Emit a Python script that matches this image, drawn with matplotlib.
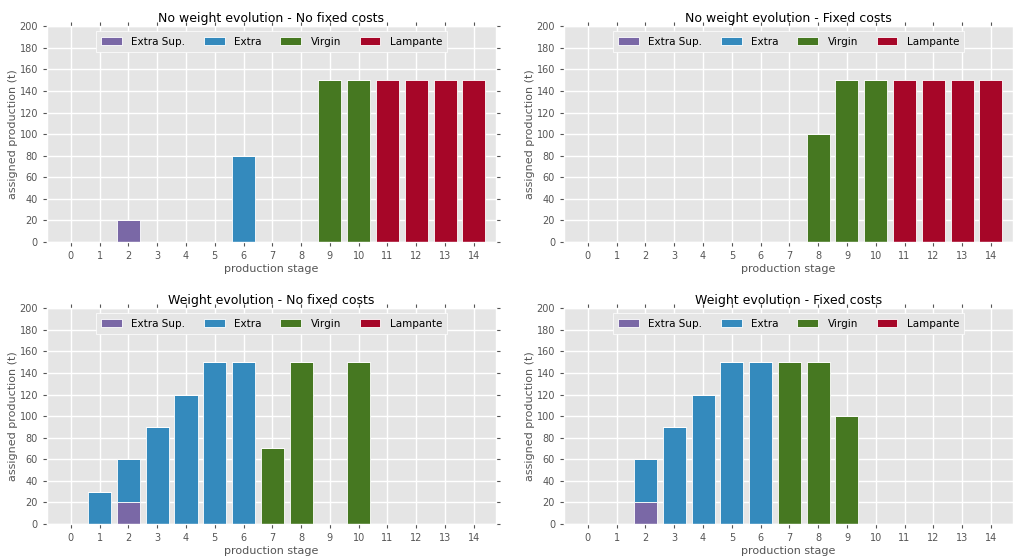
import matplotlib
matplotlib.use("Agg")
import matplotlib.pyplot as plt
import numpy as np

plt.style.use('ggplot')

# production stages 0..14
stages = np.arange(15)
labels = ['Extra Sup.', 'Extra', 'Virgin', 'Lampante']
colors = ['#7A68A6', '#348ABD', '#467821', '#A60628']

titles = ['No weight evolution - No fixed costs',
          'No weight evolution - Fixed costs',
          'Weight evolution - No fixed costs',
          'Weight evolution - Fixed costs']

# assigned production (t) per stage, one list per quality
# no weight evolution - no fixed costs
a_extra_sup = [0, 0, 20, 0, 0, 0, 0, 0, 0, 0, 0, 0, 0, 0, 0]
a_extra     = [0, 0, 0, 0, 0, 0, 80, 0, 0, 0, 0, 0, 0, 0, 0]
a_virgin    = [0, 0, 0, 0, 0, 0, 0, 0, 0, 150, 150, 0, 0, 0, 0]
a_lampante  = [0, 0, 0, 0, 0, 0, 0, 0, 0, 0, 0, 150, 150, 150, 150]

# no weight evolution - fixed costs
b_extra_sup = [0] * 15
b_extra     = [0] * 15
b_virgin    = [0, 0, 0, 0, 0, 0, 0, 0, 100, 150, 150, 0, 0, 0, 0]
b_lampante  = [0, 0, 0, 0, 0, 0, 0, 0, 0, 0, 0, 150, 150, 150, 150]

# weight evolution - no fixed costs
c_extra_sup = [0, 0, 20, 0, 0, 0, 0, 0, 0, 0, 0, 0, 0, 0, 0]
c_extra     = [0, 30, 40, 90, 120, 150, 150, 0, 0, 0, 0, 0, 0, 0, 0]
c_virgin    = [0, 0, 0, 0, 0, 0, 0, 70, 150, 0, 150, 0, 0, 0, 0]
c_lampante  = [0] * 15

# weight evolution - fixed costs
d_extra_sup = [0, 0, 20, 0, 0, 0, 0, 0, 0, 0, 0, 0, 0, 0, 0]
d_extra     = [0, 0, 40, 90, 120, 150, 150, 0, 0, 0, 0, 0, 0, 0, 0]
d_virgin    = [0, 0, 0, 0, 0, 0, 0, 150, 150, 100, 0, 0, 0, 0, 0]
d_lampante  = [0] * 15

cases = [
    [a_extra_sup, a_extra, a_virgin, a_lampante],
    [b_extra_sup, b_extra, b_virgin, b_lampante],
    [c_extra_sup, c_extra, c_virgin, c_lampante],
    [d_extra_sup, d_extra, d_virgin, d_lampante],
]

fig = plt.figure(figsize=(10.13, 5.57), dpi=100)
boxes = [(0.0464, 0.5655, 0.4432, 0.3875),
         (0.5568, 0.5655, 0.4432, 0.3875),
         (0.0464, 0.0592, 0.4432, 0.3875),
         (0.5568, 0.0592, 0.4432, 0.3875)]

for box, title, series in zip(boxes, titles, cases):
    ax = fig.add_axes(box)
    bottom = np.zeros(15)
    for vals, lab, col in zip(series, labels, colors):
        vals = np.array(vals, dtype=float)
        ax.bar(stages, vals, width=0.8, bottom=bottom, color=col, label=lab,
               edgecolor='white', linewidth=0.6)
        bottom += vals
    ax.set_xlim(-0.83, 14.77)
    ax.set_ylim(0, 200)
    ax.set_xticks(stages)
    ax.set_yticks(np.arange(0, 201, 20))
    ax.tick_params(labelsize=7, top=True, right=True, length=3,
                   direction='out', colors='#555555')
    ax.set_xlabel('production stage', fontsize=8, labelpad=2)
    ax.set_ylabel('assigned production (t)', fontsize=8, labelpad=1)
    ax.set_title(title, fontsize=9, pad=3)
    ax.grid(True, color='white', linewidth=1)
    ax.legend(loc='upper center', ncol=4, fontsize=7.5, frameon=True,
              facecolor='#E5E5E5', edgecolor='white', framealpha=1,
              handlelength=2.0, handletextpad=0.9, columnspacing=1.8,
              borderpad=0.5, borderaxespad=0.5, fancybox=False)

fig.savefig('out.png', dpi=100)
